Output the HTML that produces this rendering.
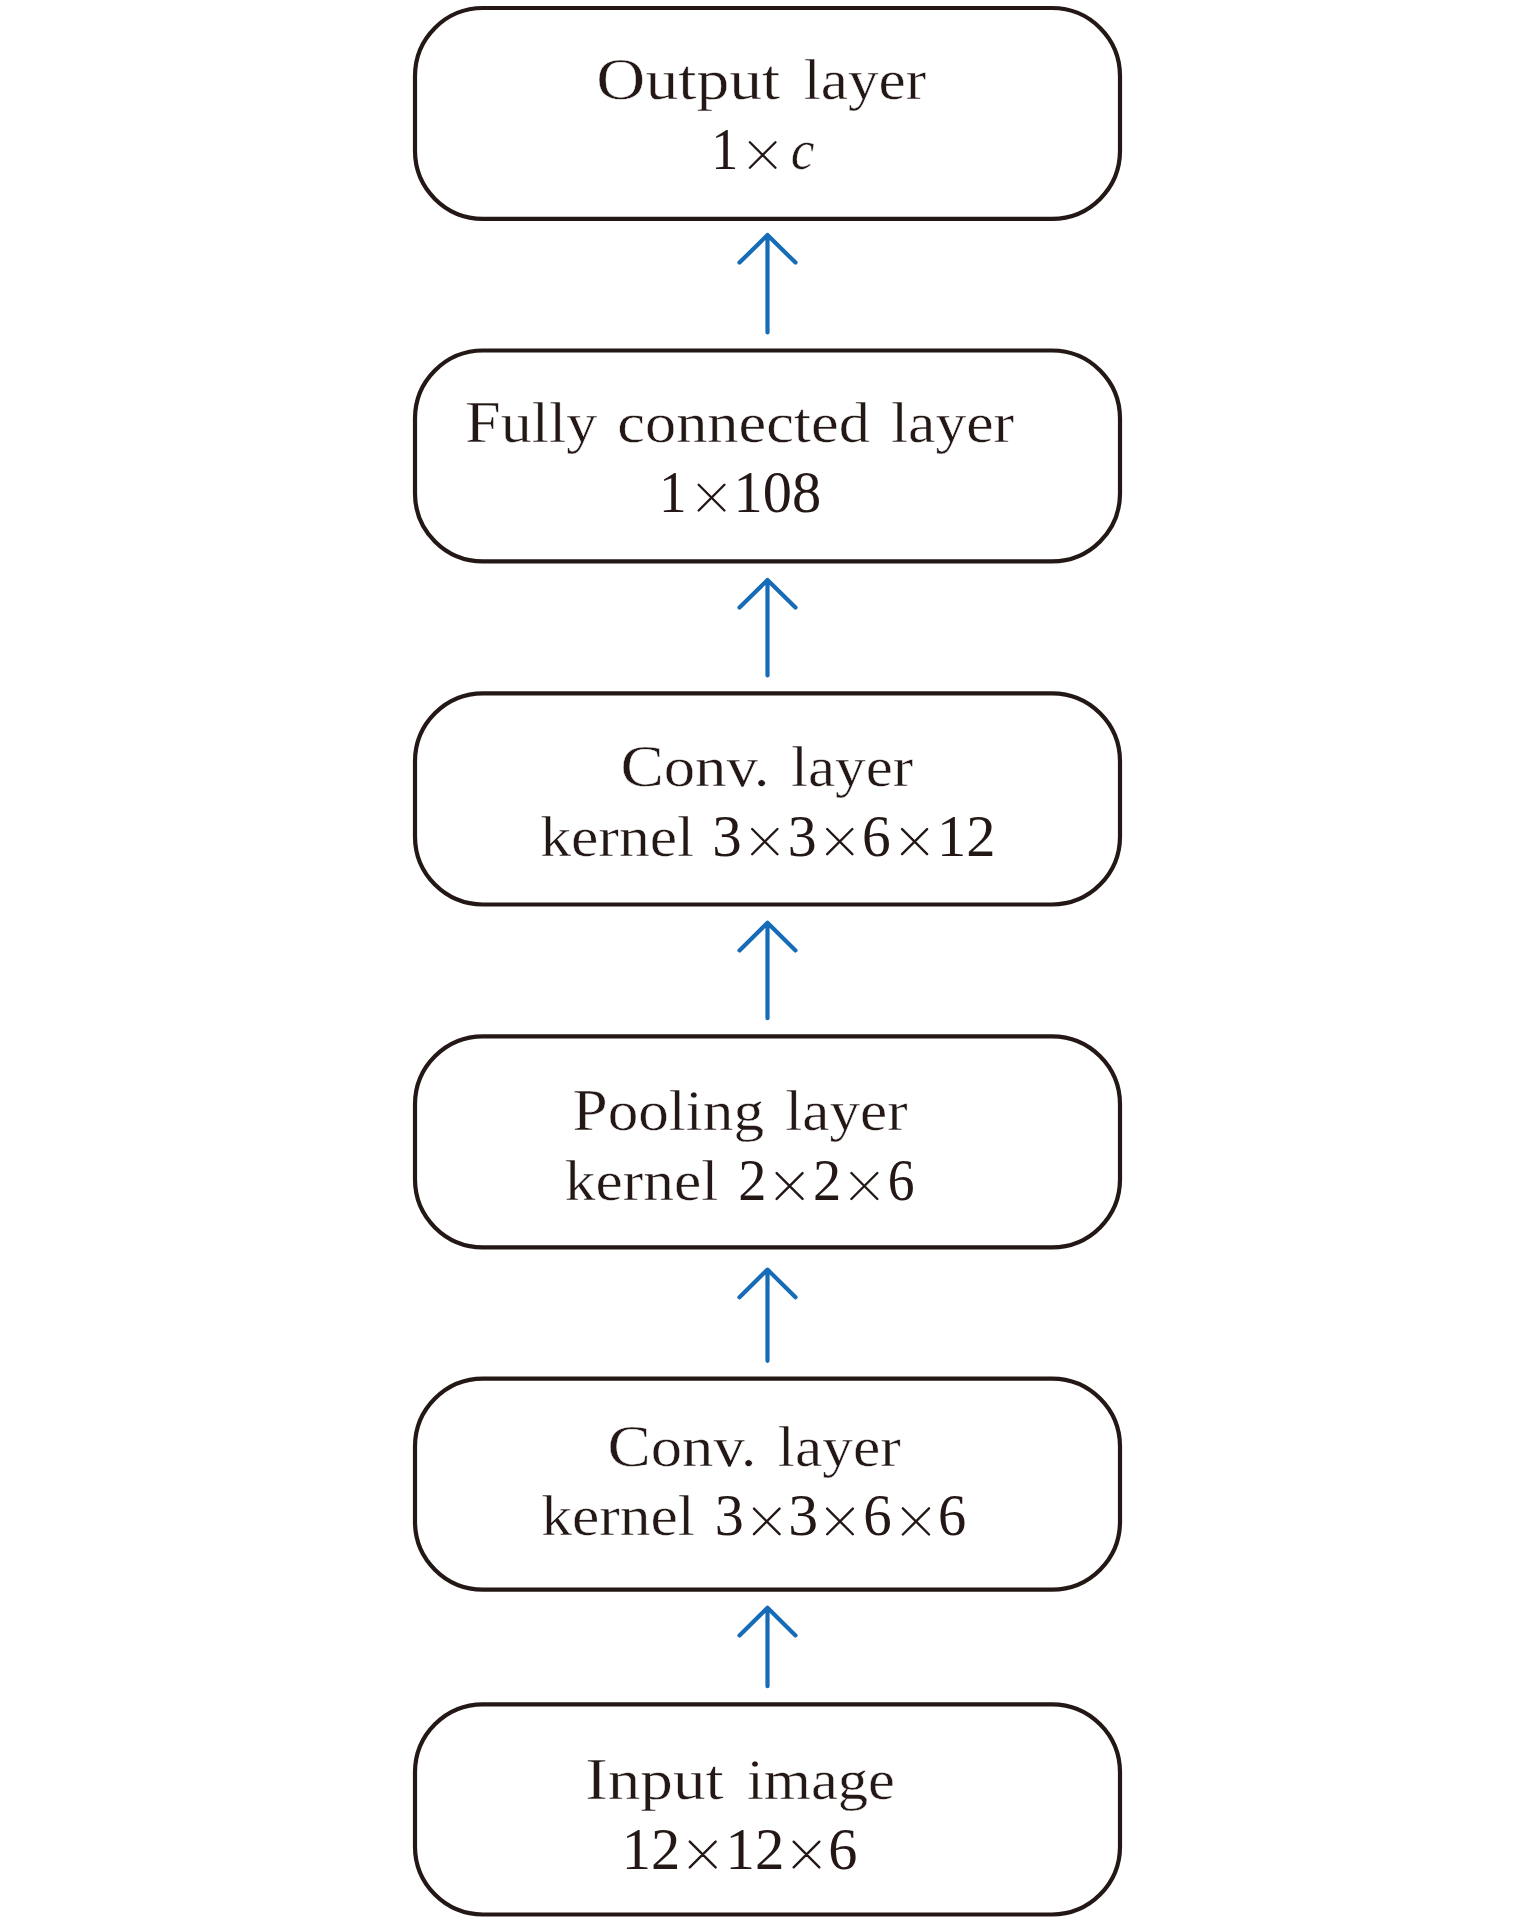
<!DOCTYPE html>
<html><head><meta charset="utf-8"><title>CNN architecture</title>
<style>html,body{margin:0;padding:0;background:#fff;width:1535px;height:1923px;overflow:hidden}
svg{display:block}</style></head><body>
<svg xmlns="http://www.w3.org/2000/svg" width="1535" height="1923" viewBox="0 0 1535 1923">
<g fill="none" stroke="#231815" stroke-width="4.2">
<rect x="415" y="8.0" width="705" height="210.85" rx="68" ry="68"/>
<rect x="415" y="350.5" width="705" height="210.90" rx="68" ry="68"/>
<rect x="415" y="693.4" width="705" height="211.10" rx="68" ry="68"/>
<rect x="415" y="1036.4" width="705" height="210.95" rx="68" ry="68"/>
<rect x="415" y="1378.6" width="705" height="211.00" rx="68" ry="68"/>
<rect x="415" y="1704.3" width="705" height="210.20" rx="68" ry="68"/>
</g>
<g fill="none" stroke="#176cb8" stroke-width="4.2" stroke-linecap="round" stroke-linejoin="round">
<path d="M767.5 332.5 V236.0 M739.5 262.6 L767.5 235.0 L795.5 262.6"/>
<path d="M767.5 675.4 V581.0 M739.5 607.6 L767.5 580.0 L795.5 607.6"/>
<path d="M767.5 1018.2 V923.8 M739.5 950.4 L767.5 922.8 L795.5 950.4"/>
<path d="M767.5 1360.8 V1270.6 M739.5 1297.2 L767.5 1269.6 L795.5 1297.2"/>
<path d="M767.5 1686.2 V1608.8 M739.5 1635.4 L767.5 1607.8 L795.5 1635.4"/>
</g>
<g font-family="Liberation Serif, serif" font-size="57.5" fill="#231815">
<text transform="translate(596.33 98.7) scale(1.1420 1)" stroke="#fff" stroke-width="0.45"><tspan font-size="59.5">O</tspan>utput</text>
<text transform="translate(803.78 98.7) scale(1.0656 1)" stroke="#fff" stroke-width="0.45">layer</text>
<text transform="translate(711.27 169.0) scale(0.9253 1)" font-size="58.5">1</text>
<text transform="translate(790.67 169.0) scale(0.9290 1)" font-style="italic" stroke="#fff" stroke-width="0.45">c</text>
<text transform="translate(465.08 441.8) scale(1.0793 1)" stroke="#fff" stroke-width="0.45"><tspan font-size="59.5">F</tspan>ully</text>
<text transform="translate(617.33 441.8) scale(1.0842 1)" stroke="#fff" stroke-width="0.45">connected</text>
<text transform="translate(890.93 441.8) scale(1.0714 1)" stroke="#fff" stroke-width="0.45">layer</text>
<text transform="translate(659.08 511.6) scale(0.9446 1)" font-size="58.5">1</text>
<text transform="translate(733.51 511.6) scale(0.9988 1)" font-size="58.5">108</text>
<text transform="translate(620.44 785.8) scale(1.0912 1)" stroke="#fff" stroke-width="0.45"><tspan font-size="59.5">C</tspan>onv.</text>
<text transform="translate(790.94 785.8) scale(1.0634 1)" stroke="#fff" stroke-width="0.45">layer</text>
<text transform="translate(540.23 855.6) scale(1.0714 1)" stroke="#fff" stroke-width="0.45">kernel</text>
<text transform="translate(712.22 855.6) scale(1.0103 1)" font-size="58.5">3</text>
<text transform="translate(787.78 855.6) scale(0.9897 1)" font-size="58.5">3</text>
<text transform="translate(862.05 855.6) scale(0.9800 1)" font-size="58.5">6</text>
<text transform="translate(936.90 855.6) scale(1.0000 1)" font-size="58.5">12</text>
<text transform="translate(572.50 1130.0) scale(1.0637 1)" stroke="#fff" stroke-width="0.45"><tspan font-size="59.5">P</tspan>ooling</text>
<text transform="translate(785.24 1130.0) scale(1.0643 1)" stroke="#fff" stroke-width="0.45">layer</text>
<text transform="translate(564.78 1200.0) scale(1.0682 1)" stroke="#fff" stroke-width="0.45">kernel</text>
<text transform="translate(738.19 1200.0) scale(0.9642 1)" font-size="58.5">2</text>
<text transform="translate(812.89 1200.0) scale(0.9642 1)" font-size="58.5">2</text>
<text transform="translate(887.71 1200.0) scale(0.9160 1)" font-size="58.5">6</text>
<text transform="translate(607.55 1465.9) scale(1.0897 1)" stroke="#fff" stroke-width="0.45"><tspan font-size="59.5">C</tspan>onv.</text>
<text transform="translate(777.83 1465.9) scale(1.0687 1)" stroke="#fff" stroke-width="0.45">layer</text>
<text transform="translate(541.23 1535.4) scale(1.0693 1)" stroke="#fff" stroke-width="0.45">kernel</text>
<text transform="translate(714.87 1535.4) scale(0.9938 1)" font-size="58.5">3</text>
<text transform="translate(788.19 1535.4) scale(1.0227 1)" font-size="58.5">3</text>
<text transform="translate(863.27 1535.4) scale(0.9720 1)" font-size="58.5">6</text>
<text transform="translate(937.99 1535.4) scale(0.9640 1)" font-size="58.5">6</text>
<text transform="translate(585.23 1798.7) scale(1.1340 1)" stroke="#fff" stroke-width="0.45"><tspan font-size="59.5">I</tspan>nput</text>
<text transform="translate(746.95 1798.7) scale(1.0534 1)" stroke="#fff" stroke-width="0.45">image</text>
<text transform="translate(621.70 1868.5) scale(1.0000 1)" font-size="58.5">12</text>
<text transform="translate(725.57 1868.5) scale(1.0059 1)" font-size="58.5">12</text>
<text transform="translate(828.31 1868.5) scale(0.9960 1)" font-size="58.5">6</text>
</g>
<path fill="none" stroke="#231815" stroke-width="2.35" stroke-linecap="round" d="M749.88 142.23L775.43 167.77M749.88 167.77L775.43 142.23M698.67 484.73L724.42 510.48M698.67 510.48L724.42 484.73M752.17 828.98L777.42 854.23M752.17 854.23L777.42 828.98M827.17 829.02L852.33 854.18M827.17 854.18L852.33 829.02M902.07 829.08L927.12 854.12M902.07 854.12L927.12 829.08M776.67 1173.08L802.53 1198.92M776.67 1198.92L802.53 1173.08M851.38 1173.03L877.33 1198.97M851.38 1198.97L877.33 1173.03M753.97 1508.62L779.53 1534.18M753.97 1534.18L779.53 1508.62M827.17 1508.58L852.83 1534.23M827.17 1534.23L852.83 1508.58M902.88 1508.33L929.03 1534.48M902.88 1534.48L929.03 1508.33M689.78 1841.58L715.62 1867.42M689.78 1867.42L715.62 1841.58M793.67 1841.67L819.33 1867.33M793.67 1867.33L819.33 1841.67"/>
</svg></body></html>
